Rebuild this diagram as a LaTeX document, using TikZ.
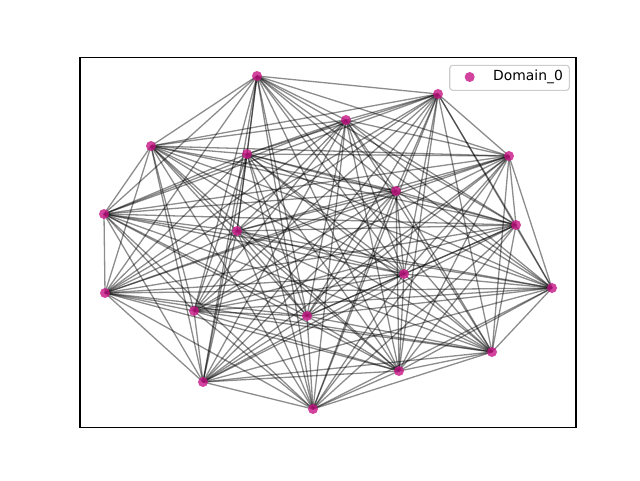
\documentclass[tikz,border=0pt]{standalone}
\usepackage{fontspec}
\setmainfont{DejaVu Sans}
\definecolor{nodecol}{RGB}{199,21,133}
\begin{document}
\begin{tikzpicture}[x=1pt,y=-1pt,
  vtx/.style={circle,fill=nodecol,fill opacity=0.8,inner sep=0pt,minimum size=10pt},
  edge/.style={draw=black,opacity=0.45,line width=1.3pt}]
\useasboundingbox (0,0) rectangle (640,480);
\fill[white] (0,0) rectangle (640,480);
\coordinate (A) at (257,76);
\coordinate (B) at (438,94);
\coordinate (C) at (346,120);
\coordinate (D) at (151,146);
\coordinate (E) at (247,154);
\coordinate (F) at (509,156);
\coordinate (G) at (396,191);
\coordinate (H) at (104,214);
\coordinate (I) at (516,225);
\coordinate (J) at (237,231);
\coordinate (K) at (404,274);
\coordinate (L) at (105,293);
\coordinate (M) at (552,288);
\coordinate (N) at (194,311);
\coordinate (O) at (307,316);
\coordinate (P) at (492,352);
\coordinate (Q) at (399,371);
\coordinate (R) at (203,382);
\coordinate (S) at (313,409);
\foreach \u/\vlist in {A/{B,C,D,E,F,G,H,I,J,K,L,M,N,O,P,Q,R,S},
  B/{C,D,E,F,G,H,I,J,K,L,M,N,O,P,Q,R,S},
  C/{D,E,F,G,H,I,J,K,L,M,N,O,P,Q,R,S},
  D/{E,F,G,H,I,J,K,L,M,N,O,P,Q,R,S},
  E/{F,G,H,I,J,K,L,M,N,O,P,Q,R,S},
  F/{G,H,I,J,K,L,M,N,O,P,Q,R,S},
  G/{H,I,J,K,L,M,N,O,P,Q,R,S},
  H/{I,J,K,L,M,N,O,P,Q,R,S},
  I/{J,K,L,M,N,O,P,Q,R,S},
  J/{K,L,M,N,O,P,Q,R,S},
  K/{L,M,N,O,P,Q,R,S},
  L/{M,N,O,P,Q,R,S},
  M/{N,O,P,Q,R,S},
  N/{O,P,Q,R,S},
  O/{P,Q,R,S},
  P/{Q,R,S},
  Q/{R,S},
  R/{S}}
  {\foreach \v in \vlist {\draw[edge] (\u) -- (\v);}}
\foreach \n in {A,B,C,D,E,F,G,H,I,J,K,L,M,N,O,P,Q,R,S}
  {\node[vtx] (n\n) at (\n) {};}
\draw[line width=1.1pt] (80,57.6) rectangle (576,427.2);
\node[draw=black!20,fill=white,fill opacity=0.8,text opacity=1,rounded corners=3pt,line width=1.1pt,minimum width=119.6pt,minimum height=25pt,inner sep=0pt] (legend) at (509.5,77.8) {};
\node[vtx] (lgmark) at (469.7,77) {};
\node[anchor=west,font=\fontsize{13.9}{16}\selectfont,inner sep=0pt] (lgtext) at (493,77) {Domain\_0};
\end{tikzpicture}
\end{document}
